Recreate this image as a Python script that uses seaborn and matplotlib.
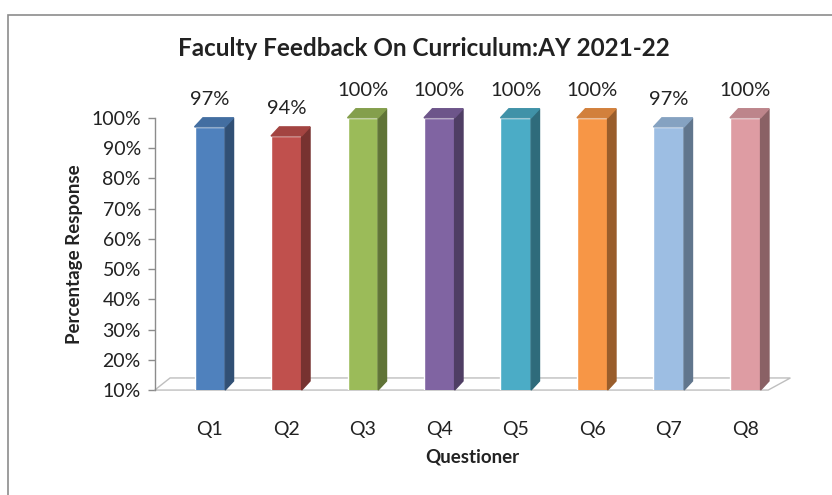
import matplotlib
matplotlib.use("Agg")
import matplotlib.pyplot as plt
import matplotlib.colors as mcolors
from matplotlib.patches import Rectangle
import seaborn as sns

# Данные
questions = ["Q1", "Q2", "Q3", "Q4", "Q5", "Q6", "Q7", "Q8"]
values = [97, 94, 100, 100, 100, 100, 97, 100]
colors = ["#4F81BD", "#C0504D", "#9BBB59", "#8064A2",
          "#4BACC6", "#F79646", "#9DBEE3", "#DE9CA3"]
y_ticks = [10, 20, 30, 40, 50, 60, 70, 80, 90, 100]

sns.set_theme(style="white")
plt.rcParams["font.family"] = ["Lato", "DejaVu Sans"]

fig = plt.figure(figsize=(8.32, 4.95), dpi=100)
ax = fig.add_axes([0.186, 0.212, 0.764, 0.55])

# рамка области диаграммы
fig.patches.append(Rectangle((8 / 832, -0.02), 1.0, 1 - 15 / 495 + 0.02,
                             transform=fig.transFigure, fill=False,
                             edgecolor="#8c8c8c", linewidth=1.2))

bar_w = 0.4
dx, dy = 0.11, 3.0  # глубина псевдо-3D

sns.barplot(x=questions, y=values, hue=questions, palette=colors,
            legend=False, width=bar_w, ax=ax, saturation=1, zorder=3)

ax.set_xlim(-0.72, 7.59)
ax.set_ylim(10, 100)

# пол
ax.fill([-0.72, 7.3, 7.59, -0.52], [10, 10, 14, 14], facecolor="white",
        edgecolor="#bfbfbf", linewidth=1, clip_on=False, zorder=1)

# боковые и верхние грани
for i, (v, c) in enumerate(zip(values, colors)):
    rgb = mcolors.to_rgb(c)
    dark = tuple(ch * 0.62 for ch in rgb)
    light = tuple(ch * 0.85 for ch in rgb)
    r = i + bar_w / 2
    l = i - bar_w / 2
    ax.fill([r, r + dx, r + dx, r], [10, 10 + dy, v + dy, v],
            color=dark, clip_on=False, zorder=3)
    ax.fill([l, l + dx, r + dx, r], [v, v + dy, v + dy, v],
            color=light, clip_on=False, zorder=3)
    ax.text(i, v + 9, f"{v}%", ha="center", va="center",
            fontsize=14.5, color="#222222")

ax.set_yticks(y_ticks)
ax.set_yticklabels([f"{t}%" for t in y_ticks])
ax.tick_params(axis="y", left=True, length=5, width=1, color="#8c8c8c",
               labelsize=14, pad=5, labelcolor="#222222")
ax.tick_params(axis="x", bottom=False, labelsize=14, pad=16,
               labelcolor="#222222")

for s in ["top", "right", "bottom"]:
    ax.spines[s].set_visible(False)
ax.spines["left"].set_color("#8c8c8c")
ax.spines["left"].set_linewidth(1)

ax.set_ylabel("Percentage Response", fontsize=13.5, fontweight="bold",
              color="#222222", labelpad=6)
ax.set_xlabel("Questioner", fontsize=13.5, fontweight="bold",
              color="#222222", labelpad=8)

fig.text(0.51, 0.903, "Faculty Feedback On Curriculum:AY 2021-22",
         ha="center", va="center", fontsize=17.5, fontweight="bold",
         color="#222222")

fig.savefig("out.png", dpi=100)
